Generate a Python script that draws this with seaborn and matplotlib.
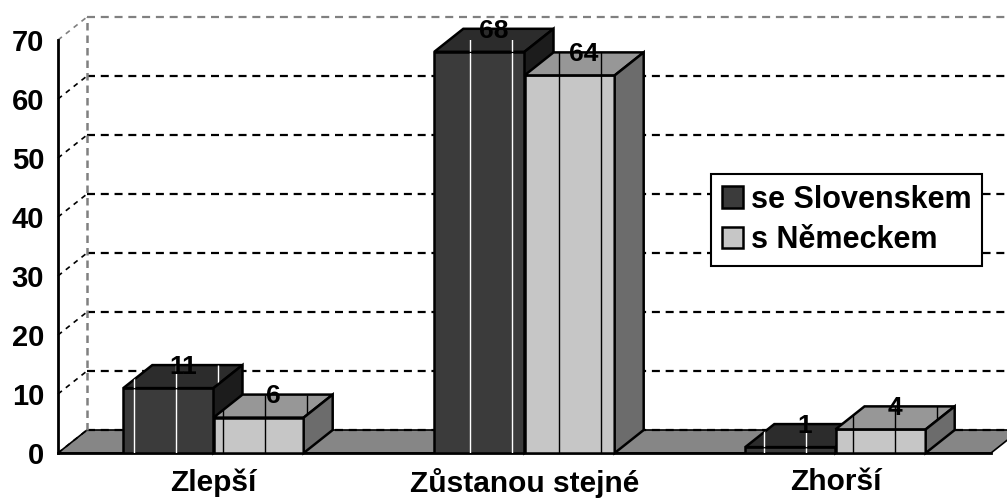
import numpy as np
import pandas as pd
import matplotlib
matplotlib.use('Agg')
import matplotlib.pyplot as plt
from matplotlib.patches import Polygon
import seaborn as sns

# data
categories = ["Zlepší", "Zůstanou stejné", "Zhorší"]
series = ["se Slovenskem", "s Německem"]
slovensko = [11, 68, 1]
nemecko = [6, 64, 4]
yticks = [0, 10, 20, 30, 40, 50, 60, 70]

sns.set_style("white")
plt.rcParams['font.family'] = ['Liberation Sans', 'DejaVu Sans']
plt.rcParams['font.weight'] = 'bold'
plt.rcParams['text.color'] = 'black'
plt.rcParams['xtick.color'] = 'black'
plt.rcParams['ytick.color'] = 'black'

df = pd.DataFrame({
	"kategorie": categories * 2,
	"serie": [series[0]] * 3 + [series[1]] * 3,
	"hodnota": slovensko + nemecko,
})

# face colours: front, top, side
front_col = {series[0]: "#3b3b3b", series[1]: "#c6c6c6"}
top_col = {series[0]: "#2c2c2c", series[1]: "#979797"}
side_col = {series[0]: "#1c1c1c", series[1]: "#6c6c6c"}
tex_col = {series[0]: "white", series[1]: "black"}
tex_phase = {series[0]: -0.256, series[1]: 0.031}
tex_period = 0.135

# depth of the fake 3d box, in data units
DX = 29 / 311
DY = 3.9

fig = plt.figure(figsize=(10.07, 5.0), dpi=100)
ax = fig.add_axes([58 / 1007, 47 / 500, 933 / 1007, 413 / 500])
sns.barplot(data=df, x="kategorie", y="hodnota", hue="serie", order=categories,
	hue_order=series, palette=front_col, width=0.58, gap=0, saturation=1,
	errorbar=None, edgecolor="black", linewidth=1.8, legend=False, ax=ax)
ax.set_xlim(-0.5, 2.5)
ax.set_ylim(0, 70)

# floor
x0, x1 = ax.get_xlim()
floor = Polygon([(x0, 0), (x1, 0), (x1 + DX, DY), (x0 + DX, DY)], closed=True,
	facecolor="#868686", edgecolor="black", linewidth=1.2, zorder=0.5, clip_on=False)
ax.add_patch(floor)

# back wall grid and its links to the front axis
for v in yticks:
	c = "#808080" if v == yticks[-1] else "black"
	ax.plot([x0 + DX, x1 + DX], [v + DY, v + DY], color=c, lw=1.6,
		dashes=(3.6, 2.6), zorder=1, clip_on=False)
	ax.plot([x0, x0 + DX], [v, v + DY], color=c, lw=1.2,
		dashes=(3.0, 3.0), zorder=1, clip_on=False)
ax.plot([x0 + DX, x0 + DX], [DY, yticks[-1] + DY], color="#808080", lw=1.8,
	dashes=(3.0, 2.0), zorder=1, clip_on=False)

# top and side faces built from seaborn's bars
bars = []
for name, cont in zip(series, ax.containers):
	for rect in cont.patches:
		bars.append((rect.get_x(), name, rect))
bars.sort(key=lambda b: b[0])
for k, (_, name, rect) in enumerate(bars):
	bx, bw, bh = rect.get_x(), rect.get_width(), rect.get_height()
	z = 3 + k * 0.1
	rect.set_zorder(z)
	top = Polygon([(bx, bh), (bx + bw, bh), (bx + bw + DX, bh + DY), (bx + DX, bh + DY)],
		closed=True, facecolor=top_col[name], edgecolor="black", linewidth=1.8,
		zorder=z + 0.01, clip_on=False)
	side = Polygon([(bx + bw, 0), (bx + bw + DX, DY), (bx + bw + DX, bh + DY), (bx + bw, bh)],
		closed=True, facecolor=side_col[name], edgecolor="black", linewidth=1.8,
		zorder=z + 0.02, clip_on=False)
	ax.add_patch(top)
	ax.add_patch(side)
	# vertical texture lines like the excel fill pattern
	xs = tex_phase[name] + tex_period * np.arange(-10, 30)
	xs = xs[(xs > bx + 0.01) & (xs < bx + bw + DX - 0.01)]
	for face in (rect, top):
		lines = ax.vlines(xs, 0, bh + DY, colors=tex_col[name], lw=1.0,
			zorder=z + 0.005 if face is rect else z + 0.015)
		lines.set_clip_path(face)

# value labels sit on the top faces
for _, name, rect in bars:
	bh = rect.get_height()
	ax.text(rect.get_x() + rect.get_width() / 2 + DX / 2, bh + DY - 0.3, f"{bh:g}",
		ha="center", va="center", fontsize=19, fontweight="bold", color="black",
		zorder=10, clip_on=False)

# axes styling
for s in ["top", "right"]:
	ax.spines[s].set_visible(False)
for s in ["left", "bottom"]:
	ax.spines[s].set_color("black")
	ax.spines[s].set_linewidth(2)
	ax.spines[s].set_zorder(2)
ax.set_yticks(yticks)
ax.set_yticklabels([str(v) for v in yticks])
ax.set_xticks(range(len(categories)))
ax.set_xticklabels(categories)
ax.set_xticks([-0.5, 0.5, 1.5, 2.5], minor=True)
ax.tick_params(axis="y", length=7, width=1.5, direction="out", labelsize=21, pad=3)
ax.tick_params(axis="x", which="major", length=0, labelsize=21.5, pad=11)
ax.tick_params(axis="x", which="minor", length=6, width=1.5, direction="out")
for lab in ax.get_xticklabels() + ax.get_yticklabels():
	lab.set_fontweight("bold")
ax.set_xlabel("")
ax.set_ylabel("")

leg = ax.legend(handles=list(ax.containers), labels=series, loc="upper left",
	bbox_to_anchor=(0.70, 0.676), borderaxespad=0, fontsize=22, frameon=True,
	fancybox=False, framealpha=1, edgecolor="black", handlelength=0.7,
	handleheight=0.7, handletextpad=0.25, labelspacing=0.35, borderpad=0.35)
leg.get_frame().set_linewidth(1.5)
leg.set_zorder(20)
for t in leg.get_texts():
	t.set_fontweight("bold")

plt.savefig("out.png", dpi=100)
plt.close()
